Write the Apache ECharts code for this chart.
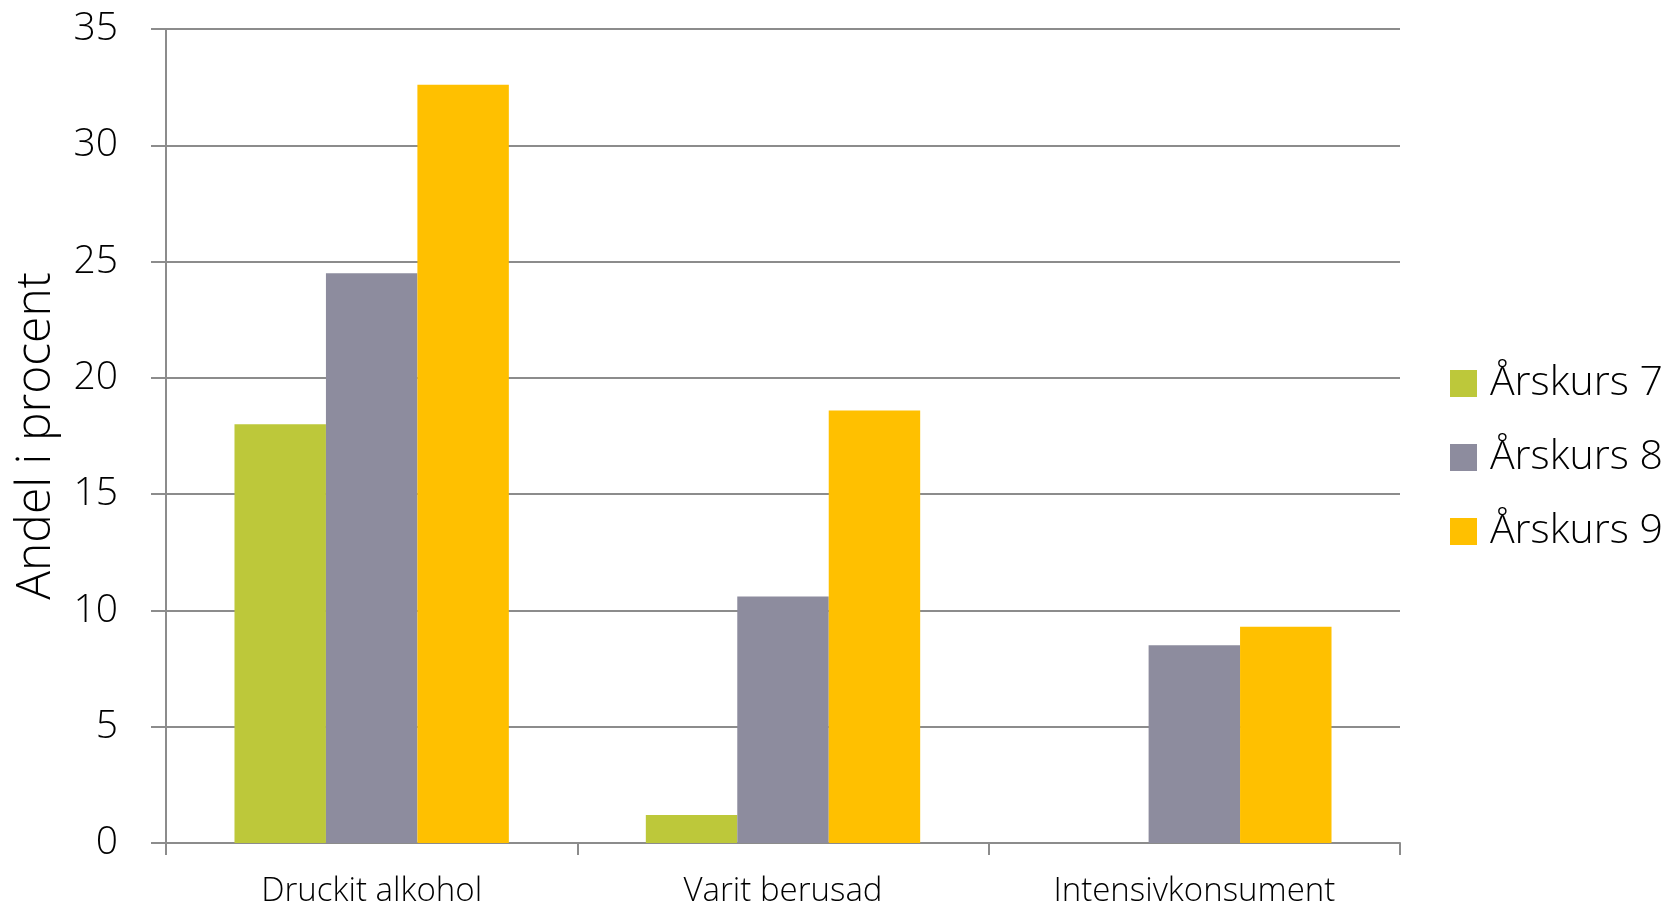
<!DOCTYPE html>
<html>
<head>
<meta charset="utf-8">
<script src="https://cdn.jsdelivr.net/npm/echarts@6/dist/echarts.min.js"></script>
<style>
html,body{margin:0;padding:0;background:#fff;}
#chart{width:1671px;height:910px;}
</style>
</head>
<body>
<div id="chart"></div>
<script>
const categories = ['Druckit alkohol', 'Varit berusad', 'Intensivkonsument'];
const seriesNames = ['Årskurs 7', 'Årskurs 8', 'Årskurs 9'];
const ak7 = [18.0, 1.2, 0];
const ak8 = [24.5, 10.6, 8.5];
const ak9 = [32.6, 18.6, 9.3];
const yTicks = [0, 5, 10, 15, 20, 25, 30, 35];
const colors = ['#BDC83A', '#8D8C9E', '#FFC000'];

const FONT = '"Open Sans", "Noto Sans", sans-serif';
const W = 300;
const chart = echarts.init(document.getElementById('chart'));
const valuesList = [ak7, ak8, ak9];

chart.setOption({
  animation: false,
  backgroundColor: '#ffffff',
  textStyle: { fontFamily: FONT, color: '#000', fontWeight: W },
  grid: { left: 166, right: 271, top: 29, bottom: 67, containLabel: false },
  legend: {
    orient: 'vertical',
    left: 1445,
    top: 358,
    itemWidth: 27,
    itemHeight: 27,
    itemGap: 33,
    icon: 'rect',
    data: seriesNames,
    textStyle: { fontFamily: FONT, fontWeight: W, fontSize: 41, color: '#000', lineHeight: 41, padding: [0, 0, 0, 8] }
  },
  xAxis: {
    type: 'category',
    data: categories,
    axisLine: { show: true, lineStyle: { color: '#8C8C8C', width: 2 } },
    axisTick: { show: true, length: 12, alignWithLabel: false, lineStyle: { color: '#8C8C8C', width: 2 } },
    axisLabel: { fontFamily: FONT, fontWeight: W, fontSize: 33, color: '#000', margin: 32 },
    splitLine: { show: false }
  },
  yAxis: {
    type: 'value',
    min: yTicks[0],
    max: yTicks[yTicks.length - 1],
    interval: yTicks[1] - yTicks[0],
    name: 'Andel i procent',
    nameLocation: 'middle',
    nameRotate: 90,
    nameGap: 106,
    nameTextStyle: { fontFamily: FONT, fontWeight: W, fontSize: 48, color: '#000' },
    axisLine: { show: true, lineStyle: { color: '#8C8C8C', width: 2 } },
    axisTick: { show: true, length: 15, lineStyle: { color: '#8C8C8C', width: 2 } },
    axisLabel: { fontFamily: FONT, fontWeight: W, fontSize: 39, color: '#000', margin: 48 },
    splitLine: { show: true, lineStyle: { color: '#8C8C8C', width: 2 } }
  },
  series: seriesNames.map((name, i) => ({
    name: name,
    type: 'bar',
    data: valuesList[i],
    barGap: '0%',
    barCategoryGap: '33.3%',
    itemStyle: { color: colors[i] }
  }))
});
</script>
</body>
</html>
